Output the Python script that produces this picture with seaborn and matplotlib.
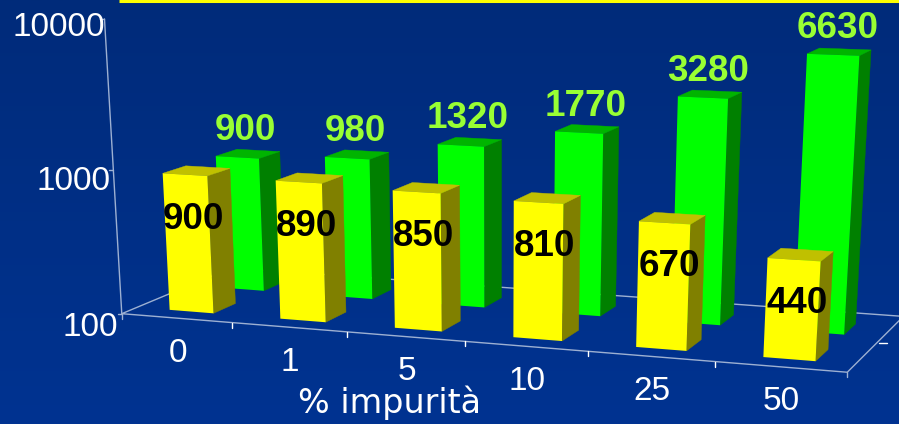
import numpy as np
import pandas as pd
import matplotlib
matplotlib.use("Agg")
import matplotlib.pyplot as plt
from matplotlib.colors import LinearSegmentedColormap
from matplotlib.transforms import Transform
import seaborn as sns

# ── Data ─────────────────────────────────────────────────────────────────────
impurita = ["0", "1", "5", "10", "25", "50"]
serie_gialla = [900, 890, 850, 810, 670, 440]
serie_verde = [900, 980, 1320, 1770, 3280, 6630]
y_ticks = [100, 1000, 10000]

# ── Camera: world (category, depth, log height) to pixels, fitted on the axes ─
CAL_WORLD = [(0, 0, 0), (1, 0, 0), (2, 0, 0), (3, 0, 0), (4, 0, 0), (5, 0, 0), (6, 0, 0),
             (0, 1, 0), (6, 1, 0), (0, 0, 1), (0, 0, 2),
             (5.70, .60, 0), (5.70, .60, 1.82), (5.70, .13, 0), (5.70, .13, .643),
             (.70, .13, 0), (.70, .13, .954)]
CAL_PX = [(122, 312), (232, 322), (348, 333), (466, 344), (590, 353), (716, 363), (848, 374),
          (232, 269), (902, 318), (112.5, 168), (105, 22),
          (846, 332), (861, 55), (813, 359), (818, 260),
          (213, 312), (206, 174)]


def fit_camera(world, px):
    rows, rhs = [], []
    for (u, v, h), (x, y) in zip(world, px):
        rows.append([u, v, h, 1, 0, 0, 0, 0, -x * u, -x * v, -x * h])
        rows.append([0, 0, 0, 0, u, v, h, 1, -y * u, -y * v, -y * h])
        rhs += [x, y]
    p = np.linalg.lstsq(np.array(rows, float), np.array(rhs, float), rcond=None)[0]
    return np.append(p, 1).reshape(3, 4)


CAM = fit_camera(CAL_WORLD, CAL_PX)


def project(u, v, h):
    w = CAM @ np.array([u, v, h, 1.0])
    return w[0] / w[2], w[1] / w[2]


class FrontFace(Transform):
    """Puts a seaborn bar (x = category, y = log height) on its plane in the scene."""
    input_dims = 2
    output_dims = 2
    is_separable = False

    def __init__(self, v):
        super().__init__()
        self.v = v

    def transform_non_affine(self, values):
        return np.array([project(x + U_SHIFT, self.v, y) for x, y in values])


# ── Scene ────────────────────────────────────────────────────────────────────
U_SHIFT = 0.50
BAR_W = 0.40
DEPTH = 0.20
SERIES = [
    {"name": "verde", "values": serie_verde, "v": 0.60, "front": "#00FF00", "side": "#008000",
     "top": "#00B400", "text": "#99FF33", "dx": -2, "dy": -23, "z": 3},
    {"name": "gialla", "values": serie_gialla, "v": 0.13, "front": "#FFFF00", "side": "#808000",
     "top": "#C0C000", "text": "black", "dx": -3, "dy": 48.5, "z": 4},
]

sns.set_theme(style="white")
plt.rcParams["font.family"] = ["Liberation Sans", "DejaVu Sans"]

rows = []
for s in SERIES:
    for cat, val in zip(impurita, s["values"]):
        rows.append({"impurita": cat, "serie": s["name"], "altezza": np.log10(val / 100)})
df = pd.DataFrame(rows)

fig, ax = plt.subplots(figsize=(8.99, 4.24), dpi=100)
fig.subplots_adjust(0, 0, 1, 1)

sns.barplot(data=df, x="impurita", y="altezza", hue="serie", hue_order=[s["name"] for s in SERIES],
            palette={s["name"]: s["front"] for s in SERIES}, dodge=False, width=BAR_W,
            saturation=1, legend=False, linewidth=0, edgecolor="none", ax=ax)
containers = list(ax.containers)

# background
sfondo = LinearSegmentedColormap.from_list("sfondo", ["#002B7A", "#003391"])
ax.imshow(np.linspace(0, 1, 256)[:, None], extent=(0, 899, 424, 0), aspect="auto", cmap=sfondo, zorder=0)
ax.set_xlim(0, 899)
ax.set_ylim(424, 0)
ax.set_axis_off()

ax.plot([119, 899], [1, 1], color="#FFFF00", lw=2.2, zorder=1, solid_capstyle="butt")

# floor and axis lines
LINE = "#9DB0D2"
corners = [(0, 1, 0), (0, 0, 0), (6, 0, 0), (6, 1, 0), (0, 1, 0)]
ax.plot(*zip(*[project(*c) for c in corners]), color=LINE, lw=1.0, zorder=2, clip_on=True)
ax.plot(*zip(*[project(0, 0, h) for h in (0, 2)]), color=LINE, lw=1.0, zorder=2)

for i in range(7):
    x, y = project(i, 0, 0)
    ax.plot([x, x], [y, y + 5], color="white" if 0 < i < 6 else LINE, lw=1.0, zorder=2)
x, y = project(6, 0.5, 0)
ax.plot([x + 2, x + 10], [y, y], color="white", lw=1.0, zorder=2)

# bars: the front face is the seaborn rectangle, side and top follow from it
for s, cont in zip(SERIES, containers):
    v0, v1 = s["v"], s["v"] + DEPTH
    for bar, val in zip(cont.patches, s["values"]):
        x0 = bar.get_x() + U_SHIFT
        x1 = x0 + bar.get_width()
        h = bar.get_height()
        bar.set_transform(FrontFace(v0) + ax.transData)
        bar.set_zorder(s["z"] + 0.1)
        bar.set_clip_on(False)
        side = [project(x1, v0, 0), project(x1, v1, 0), project(x1, v1, h), project(x1, v0, h)]
        top = [project(x0, v0, h), project(x1, v0, h), project(x1, v1, h), project(x0, v1, h)]
        ax.fill(*zip(*side), color=s["side"], lw=0.3, zorder=s["z"])
        ax.fill(*zip(*top), color=s["top"], lw=0.3, zorder=s["z"])
        lx, ly = project((x0 + x1) / 2, (v0 + v1) / 2, h)
        ax.text(lx + s["dx"], ly + s["dy"], str(val), color=s["text"], fontsize=26.5, fontweight="bold",
                ha="center", va="center", zorder=6)

# axis labels
for i, cat in enumerate(impurita):
    x, y = project(i + 0.5, 0, 0)
    ax.text(x + 1, y + 35, cat, color="white", fontsize=24, ha="center", va="center", zorder=6)

for k, (tick, nudge) in enumerate(zip(y_ticks, [(-4, 14), (-3, 12), (1, 7)])):
    x, y = project(0, 0, k)
    ax.plot([x - 4, x], [y, y], color=LINE, lw=1.0, zorder=2)
    ax.text(x + nudge[0], y + nudge[1] + (2 if k == 2 else 0), str(tick), color="white", fontsize=24,
            ha="right", va="center", zorder=6)

ax.text(390, 403, "% impurità", color="white", fontsize=24, ha="center", va="center",
        family="DejaVu Sans", zorder=6)

fig.savefig("out.png", dpi=100)
plt.close(fig)
